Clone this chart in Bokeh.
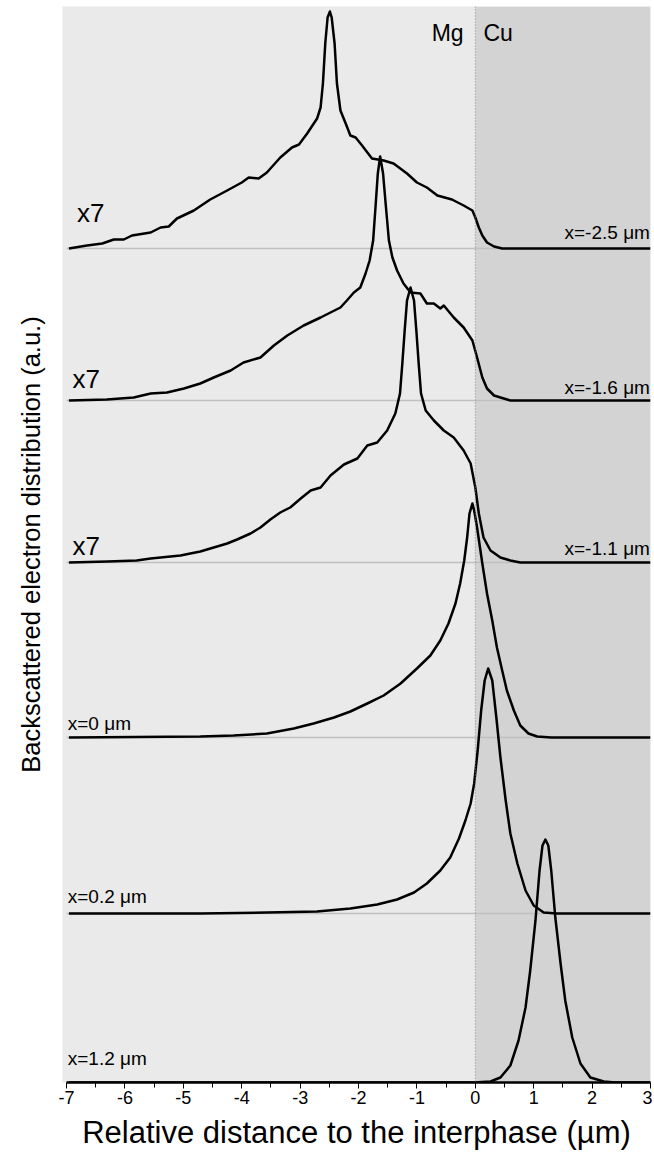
from bokeh.plotting import figure
from bokeh.models import BoxAnnotation, Span, Label, FixedTicker, Range1d
from bokeh.embed import file_html
from bokeh.resources import INLINE

FONT = "Liberation Sans"

# ---- data: profile positions (µm) and heights above each baseline (a.u.) ----
x1 = [-6.96, -6.65, -6.39, -6.19, -6.02, -5.88, -5.56, -5.39, -5.25, -5.11, -4.82, -4.54,
      -4.25, -4.0, -3.88, -3.71, -3.57, -3.34, -3.14, -3.02, -2.88, -2.71, -2.65, -2.61,
      -2.57, -2.53, -2.49, -2.46, -2.41, -2.37, -2.31, -2.22, -2.14, -2.05, -1.94, -1.77,
      -1.57, -1.40, -1.17, -1.0, -0.83, -0.65, -0.40, -0.2, -0.05, 0.0, 0.06, 0.12, 0.2,
      0.32, 0.46, 3.0]
h1 = [0.0, 0.03, 0.05, 0.09, 0.09, 0.13, 0.16, 0.21, 0.22, 0.30, 0.38, 0.49,
      0.58, 0.66, 0.71, 0.70, 0.76, 0.91, 1.01, 1.04, 1.15, 1.30, 1.41, 1.65,
      2.05, 2.31, 2.37, 2.31, 2.05, 1.65, 1.38, 1.25, 1.13, 1.11, 1.03, 0.90,
      0.88, 0.85, 0.75, 0.66, 0.61, 0.53, 0.49, 0.43, 0.38, 0.31, 0.21, 0.13, 0.06,
      0.02, 0.0, 0.0]

x2 = [-6.96, -6.31, -5.85, -5.56, -5.28, -4.99, -4.71, -4.48, -4.19, -3.97, -3.68, -3.45,
      -3.22, -2.94, -2.65, -2.48, -2.31, -2.2, -2.08, -1.97, -1.88, -1.81, -1.75, -1.71,
      -1.67, -1.63, -1.58, -1.53, -1.48, -1.42, -1.34, -1.23, -1.11, -0.94, -0.83, -0.71,
      -0.6, -0.54, -0.37, -0.2, -0.05, 0.03, 0.12, 0.2, 0.32, 0.43, 0.6, 3.0]
h2 = [0.0, 0.01, 0.03, 0.07, 0.08, 0.12, 0.17, 0.23, 0.30, 0.38, 0.43, 0.55,
      0.65, 0.75, 0.83, 0.88, 0.93, 1.0, 1.08, 1.13, 1.27, 1.40, 1.60, 1.93,
      2.27, 2.44, 2.27, 1.93, 1.60, 1.43, 1.30, 1.17, 1.08, 1.07, 0.97, 0.97,
      0.92, 0.95, 0.83, 0.73, 0.60, 0.43, 0.23, 0.12, 0.05, 0.03, 0.0, 0.0]

x3 = [-6.96, -6.3, -5.8, -5.56, -5.05, -4.71, -4.48, -4.25, -4.08, -3.85, -3.68, -3.51,
      -3.34, -3.17, -2.99, -2.82, -2.65, -2.48, -2.25, -2.02, -1.85, -1.68, -1.51, -1.37,
      -1.29, -1.25, -1.21, -1.17, -1.11, -1.05, -1.01, -0.97, -0.93, -0.85, -0.71, -0.54,
      -0.37, -0.2, -0.08, 0.0, 0.06, 0.14, 0.26, 0.43, 0.6, 0.77, 3.0]
h3 = [0.0, 0.01, 0.02, 0.04, 0.07, 0.11, 0.15, 0.19, 0.23, 0.29, 0.35, 0.43,
      0.50, 0.55, 0.64, 0.72, 0.75, 0.87, 0.98, 1.04, 1.17, 1.20, 1.32, 1.49,
      1.69, 1.99, 2.32, 2.62, 2.75, 2.62, 2.32, 1.99, 1.69, 1.52, 1.42, 1.32,
      1.25, 1.12, 0.99, 0.75, 0.49, 0.25, 0.12, 0.05, 0.02, 0.0, 0.0]

x4 = [-6.96, -4.71, -4.14, -3.57, -3.11, -2.77, -2.42, -2.14, -1.85, -1.57, -1.28, -1.0,
      -0.77, -0.6, -0.46, -0.34, -0.26, -0.19, -0.14, -0.1, -0.05, -0.02, 0.03, 0.12,
      0.2, 0.29, 0.37, 0.46, 0.54, 0.66, 0.77, 0.91, 1.06, 1.3, 3.0]
h4 = [0.0, 0.01, 0.02, 0.04, 0.09, 0.14, 0.20, 0.26, 0.34, 0.42, 0.54, 0.69,
      0.82, 0.97, 1.14, 1.34, 1.54, 1.77, 2.0, 2.24, 2.34, 2.27, 2.10, 1.74,
      1.44, 1.17, 0.90, 0.67, 0.47, 0.27, 0.12, 0.04, 0.01, 0.0, 0.0]

x5 = [-6.96, -4.71, -3.57, -2.71, -2.14, -1.68, -1.34, -1.05, -0.83, -0.6, -0.43, -0.28,
      -0.17, -0.08, -0.02, 0.04, 0.1, 0.16, 0.22, 0.29, 0.36, 0.43, 0.52, 0.6, 0.72,
      0.86, 1.0, 1.17, 1.4, 3.0]
h5 = [0.0, 0.0, 0.01, 0.02, 0.05, 0.09, 0.14, 0.21, 0.30, 0.43, 0.56, 0.75,
      0.93, 1.10, 1.30, 1.63, 2.03, 2.33, 2.45, 2.33, 1.96, 1.56, 1.13, 0.80, 0.50,
      0.23, 0.08, 0.01, 0.0, 0.0]

x6 = [-6.96, -0.03, 0.26, 0.43, 0.6, 0.74, 0.86, 0.94, 1.03, 1.10, 1.15, 1.20, 1.25,
      1.30, 1.37, 1.46, 1.54, 1.66, 1.80, 1.97, 2.2, 2.4, 3.0]
h6 = [0.0, 0.0, 0.01, 0.05, 0.17, 0.42, 0.75, 1.12, 1.62, 2.12, 2.37, 2.43, 2.37,
      2.12, 1.65, 1.19, 0.82, 0.45, 0.19, 0.05, 0.01, 0.0, 0.0]

profiles_x = [x1, x2, x3, x4, x5, x6]
profiles_h = [h1, h2, h3, h4, h5, h6]
offsets = [8.34, 6.82, 5.20, 3.45, 1.69, 0.0]
series_labels = ["x=-2.5 \u03bcm", "x=-1.6 \u03bcm", "x=-1.1 \u03bcm",
                 "x=0 \u03bcm", "x=0.2 \u03bcm", "x=1.2 \u03bcm"]
scale_labels = ["x7", "x7", "x7"]
x_ticks = [-7, -6, -5, -4, -3, -2, -1, 0, 1, 2, 3]
x_tick_labels = ["-7", "-6", "-5", "-4", "-3", "-2", "-1", "0", "1", "2", "3"]
interface_x = 0.0

p = figure(width=652, height=1153, output_backend="svg", toolbar_location=None,
           x_range=Range1d(-7.07, 3.0), y_range=Range1d(0, 10.76),
           min_border_left=62, min_border_right=2, min_border_top=6, min_border_bottom=71,
           background_fill_color="#eaeaea", border_fill_color="white")
p.outline_line_color = None
p.grid.visible = False

# Mg / Cu regions
p.add_layout(BoxAnnotation(right=interface_x, fill_color="#eaeaea", fill_alpha=1.0,
                           line_color=None, level="underlay"))
p.add_layout(BoxAnnotation(left=interface_x, fill_color="#d3d3d3", fill_alpha=1.0,
                           line_color=None, level="underlay"))
p.add_layout(Span(location=interface_x, dimension="height", line_color="#8a8a8a",
                  line_width=1, line_dash="1 2"))

# baselines
p.segment(x0=[x_ticks[0]] * len(offsets), x1=[x_ticks[-1]] * len(offsets),
          y0=offsets, y1=offsets, line_color="#c0c0c0", line_width=1.5)

# profiles
for xs, hs, off in zip(profiles_x, profiles_h, offsets):
    p.line(xs, [h + off for h in hs], line_color="black", line_width=2.5,
           line_join="round")

# x axis
ax = p.xaxis[0]
ax.bounds = (x_ticks[0], x_ticks[-1])
ax.ticker = FixedTicker(ticks=x_ticks,
                        minor_ticks=[t + 0.5 for t in x_ticks[:-1]])
ax.major_label_overrides = dict(zip(x_ticks, x_tick_labels))
ax.axis_line_width = 2.5
ax.axis_line_color = "black"
ax.major_tick_out = 6
ax.major_tick_in = 0
ax.minor_tick_out = 5
ax.minor_tick_in = 0
ax.major_label_text_font = FONT
ax.major_label_text_font_size = "18px"
ax.major_label_text_color = "black"
ax.major_label_standoff = 2
ax.axis_label = "Relative distance to the interphase (\u00b5m)"
ax.axis_label_text_font = FONT
ax.axis_label_text_font_size = "31px"
ax.axis_label_text_color = "black"
ax.axis_label_text_font_style = "normal"
ax.axis_label_standoff = 8

# y axis (label only)
ay = p.yaxis[0]
ay.ticker = FixedTicker(ticks=[])
ay.axis_line_color = None
ay.major_tick_out = 0
ay.minor_tick_out = 0
ay.major_label_text_font_size = "0px"
ay.axis_label = "Backscattered electron distribution (a.u.)"
ay.axis_label_text_font = FONT
ay.axis_label_text_font_size = "25.5px"
ay.axis_label_text_color = "black"
ay.axis_label_text_font_style = "normal"
ay.axis_label_standoff = 18

# annotations
scale_dx = [-6.82, -6.9, -6.9]
scale_dy = [0.36, 0.22, 0.17]
for i, txt in enumerate(scale_labels):
    p.add_layout(Label(x=scale_dx[i], y=offsets[i] + scale_dy[i],
                       text=txt, text_font=FONT, text_font_size="26px", text_color="black",
                       text_align="left", text_baseline="middle"))
label_dy = [0.16, 0.13, 0.14, 0.14, 0.17, 0.24]
for i, txt in enumerate(series_labels):
    if i < 3:
        p.add_layout(Label(x=2.99, y=offsets[i] + label_dy[i], text=txt,
                           text_font=FONT, text_font_size="19px", text_color="black",
                           text_align="right", text_baseline="middle"))
    else:
        p.add_layout(Label(x=-6.98, y=offsets[i] + label_dy[i], text=txt,
                           text_font=FONT, text_font_size="19px", text_color="black",
                           text_align="left", text_baseline="middle"))
p.add_layout(Label(x=-0.2, y=10.5, text="Mg", text_font=FONT, text_font_size="23px",
                   text_color="black", text_align="right", text_baseline="middle"))
p.add_layout(Label(x=0.14, y=10.5, text="Cu", text_font=FONT, text_font_size="23px",
                   text_color="black", text_align="left", text_baseline="middle"))

open("out.html", "w").write(file_html(p, INLINE))
